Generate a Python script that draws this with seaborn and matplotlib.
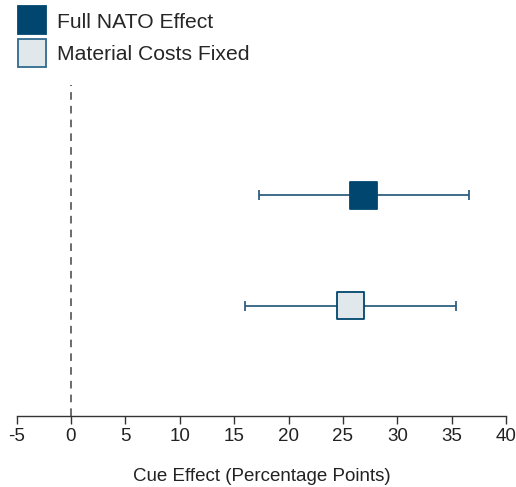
#!/usr/bin/env python3
import numpy as np
import pandas as pd
import seaborn as sns
import matplotlib.pyplot as plt
from matplotlib.lines import Line2D

# Estimates
models = ['Full NATO Effect', 'Material Costs Fixed']
effect = [26.9, 25.7]
ci_low = [17.3, 16.0]
ci_high = [36.6, 35.4]
ypos = [2, 1]

df = pd.DataFrame({'model': models, 'effect': effect, 'lo': ci_low, 'hi': ci_high, 'y': ypos})

sns.set_style('white')
plt.rcParams['font.family'] = ['Liberation Sans', 'DejaVu Sans']

dark = '#00466e'
light = '#e1e8ec'
bar_col = '#2f5f80'

fig = plt.figure(figsize=(5.16, 4.87), dpi=100)
ax = fig.add_axes([0.032, 0.146, 0.949, 0.679])

ax.axvline(0, color='#444444', ls=(0, (5, 4)), lw=1.1, zorder=1)

# confidence intervals
ax.errorbar(df['effect'], df['y'], xerr=[df['effect'] - df['lo'], df['hi'] - df['effect']],
            fmt='none', ecolor=bar_col, elinewidth=1.3, capsize=3.5, capthick=1.3, zorder=2)

sns.scatterplot(data=df, x='effect', y='y', hue='model', palette=[dark, light],
                marker='s', s=390, edgecolor=dark, linewidth=1.3, legend=False, ax=ax, zorder=3)

ax.set_xlim(-5, 40)
ax.set_ylim(0, 3)
ax.set_xticks(np.arange(-5, 41, 5))
ax.set_xticklabels([str(v) for v in range(-5, 41, 5)], fontsize=13.5, color='#222222')
ax.set_yticks([])
ax.set_ylabel('')
ax.set_xlabel('Cue Effect (Percentage Points)', fontsize=13.5, color='#222222', labelpad=16)
ax.tick_params(axis='x', direction='out', length=6, width=1, color='#333333', pad=3, bottom=True)
for side in ['top', 'left', 'right']:
    ax.spines[side].set_visible(False)
ax.spines['bottom'].set_color('#333333')
ax.spines['bottom'].set_linewidth(1)

handles = [Line2D([], [], marker='s', ls='none', markersize=20, markerfacecolor=dark,
                  markeredgecolor=dark, markeredgewidth=1.3),
           Line2D([], [], marker='s', ls='none', markersize=20, markerfacecolor=light,
                  markeredgecolor='#2f6a8e', markeredgewidth=1.3)]
fig.legend(handles, models, loc='upper left', bbox_to_anchor=(0.012, 1.0), frameon=False,
           fontsize=15.2, handlelength=1.2, handletextpad=0.6, labelspacing=0.65, borderaxespad=0.2)

fig.savefig('out.png', dpi=100)
plt.close(fig)
